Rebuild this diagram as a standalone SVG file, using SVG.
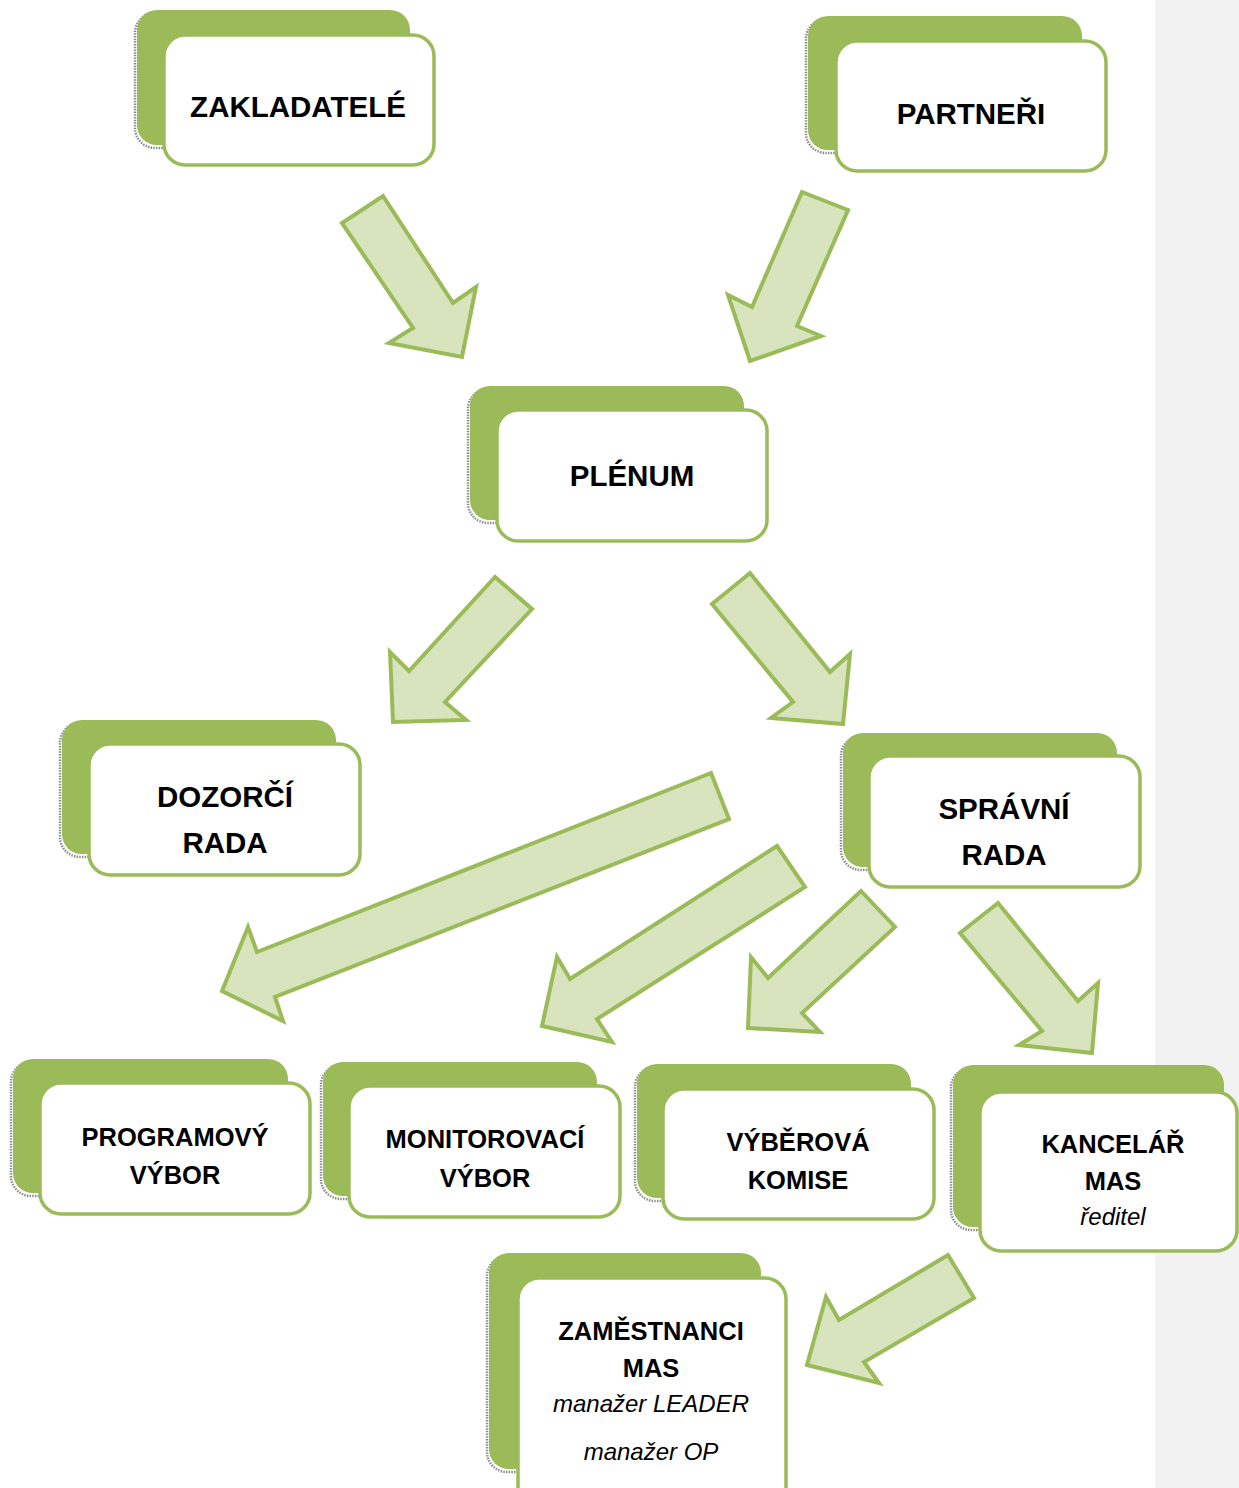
<svg xmlns="http://www.w3.org/2000/svg" width="1239" height="1488" viewBox="0 0 1239 1488">
<style>
.bg{fill:#f2f2f2}
.shadow{fill:none;stroke:#8c8c8c;stroke-width:2.5;stroke-dasharray:1.5 1.2}
.back{fill:#9bbb59}
.front{fill:#ffffff;stroke:#9bbb59;stroke-width:3.5}
.arrow{fill:#d7e4bd;stroke:#9bbb59;stroke-width:4;stroke-linejoin:miter}
.t1{font-family:"Liberation Sans",Arial,sans-serif;font-weight:bold;font-size:29.5px;fill:#000;text-anchor:middle}
.t2{font-family:"Liberation Sans",Arial,sans-serif;font-weight:bold;font-size:25.5px;fill:#000;text-anchor:middle}
.ti{font-family:"Liberation Sans",Arial,sans-serif;font-style:italic;font-size:24px;fill:#000;text-anchor:middle}
</style>
<rect class="bg" x="1155" y="0" width="84" height="1488"/>

<g id="connectors">
<polygon class="arrow" points="383,196 453,303 476,287 462,357 389,343 413,328 342,223"/>
<polygon class="arrow" points="802,192 848,210 797,326 821,336 750,361 728,295 752,307"/>
<polygon class="arrow" points="495,577 532,609 445,702 466,720 393,722 390,652 409,671"/>
<polygon class="arrow" points="750,573 830,672 850,654 843,724 771,718 793,702 712,604"/>
<polygon class="arrow" points="711,773 729,819 275,997 283,1021 222,991 248,927 257,952"/>
<polygon class="arrow" points="777,846 805,887 597,1019 612,1042 542,1026 557,957 570,979"/>
<polygon class="arrow" points="861,891 895,927 802,1013 820,1032 748,1028 751,957 768,978"/>
<polygon class="arrow" points="998,903 1078,1001 1098,983 1092,1053 1019,1045 1042,1031 960,933"/>
<polygon class="arrow" points="948,1255 974,1298 864,1362 879,1383 807,1365 826,1297 839,1320"/>
</g>

<g id="zakladatele">
<rect class="shadow" x="135" y="13" width="273" height="135" rx="20"/>
<rect class="back" x="137" y="10" width="273" height="135" rx="20"/>
<rect class="front" x="164" y="35" width="270" height="130" rx="21"/>
<text class="t1" x="298" y="117">ZAKLADATELÉ</text>
</g>

<g id="partneri">
<rect class="shadow" x="806" y="19" width="274" height="134" rx="20"/>
<rect class="back" x="808" y="16" width="274" height="134" rx="20"/>
<rect class="front" x="836" y="41" width="270" height="130" rx="21"/>
<text class="t1" x="971" y="124">PARTNEŘI</text>
</g>

<g id="plenum">
<rect class="shadow" x="468" y="389" width="274" height="134" rx="20"/>
<rect class="back" x="470" y="386" width="274" height="134" rx="20"/>
<rect class="front" x="497" y="410" width="270" height="131" rx="21"/>
<text class="t1" x="632" y="486">PLÉNUM</text>
</g>

<g id="dozorci-rada">
<rect class="shadow" x="60" y="723" width="274" height="134" rx="20"/>
<rect class="back" x="62" y="720" width="274" height="134" rx="20"/>
<rect class="front" x="89" y="744" width="271" height="131" rx="21"/>
<text class="t1" x="225" y="807">DOZORČÍ</text>
<text class="t1" x="225" y="853">RADA</text>
</g>

<g id="spravni-rada">
<rect class="shadow" x="841" y="736" width="274" height="134" rx="20"/>
<rect class="back" x="843" y="733" width="274" height="134" rx="20"/>
<rect class="front" x="869" y="756" width="271" height="131" rx="21"/>
<text class="t1" x="1004" y="819">SPRÁVNÍ</text>
<text class="t1" x="1004" y="865">RADA</text>
</g>

<g id="programovy-vybor">
<rect class="shadow" x="11" y="1062" width="275" height="134" rx="20"/>
<rect class="back" x="13" y="1059" width="275" height="134" rx="20"/>
<rect class="front" x="40" y="1083" width="270" height="131" rx="21"/>
<text class="t2" x="175" y="1146">PROGRAMOVÝ</text>
<text class="t2" x="175" y="1184">VÝBOR</text>
</g>

<g id="monitorovaci-vybor">
<rect class="shadow" x="321" y="1065" width="274" height="134" rx="20"/>
<rect class="back" x="323" y="1062" width="274" height="134" rx="20"/>
<rect class="front" x="349" y="1086" width="271" height="131" rx="21"/>
<text class="t2" x="485" y="1148">MONITOROVACÍ</text>
<text class="t2" x="485" y="1187">VÝBOR</text>
</g>

<g id="vyberova-komise">
<rect class="shadow" x="635" y="1067" width="274" height="134" rx="20"/>
<rect class="back" x="637" y="1064" width="274" height="134" rx="20"/>
<rect class="front" x="663" y="1089" width="271" height="130" rx="21"/>
<text class="t2" x="798" y="1151">VÝBĚROVÁ</text>
<text class="t2" x="798" y="1189">KOMISE</text>
</g>

<g id="kancelar-mas">
<rect class="shadow" x="951" y="1068" width="271" height="162" rx="20"/>
<rect class="back" x="953" y="1065" width="271" height="162" rx="20"/>
<rect class="front" x="980" y="1092" width="257" height="159" rx="21"/>
<text class="t2" x="1113" y="1153">KANCELÁŘ</text>
<text class="t2" x="1113" y="1190">MAS</text>
<text class="ti" x="1113" y="1225">ředitel</text>
</g>

<g id="zamestnanci-mas">
<rect class="shadow" x="487" y="1256" width="272" height="216" rx="20"/>
<rect class="back" x="489" y="1253" width="272" height="216" rx="20"/>
<rect class="front" x="518" y="1278" width="268" height="230" rx="21"/>
<text class="t2" x="651" y="1340">ZAMĚSTNANCI</text>
<text class="t2" x="651" y="1377">MAS</text>
<text class="ti" x="651" y="1412">manažer LEADER</text>
<text class="ti" x="651" y="1460">manažer OP</text>
</g>
</svg>
